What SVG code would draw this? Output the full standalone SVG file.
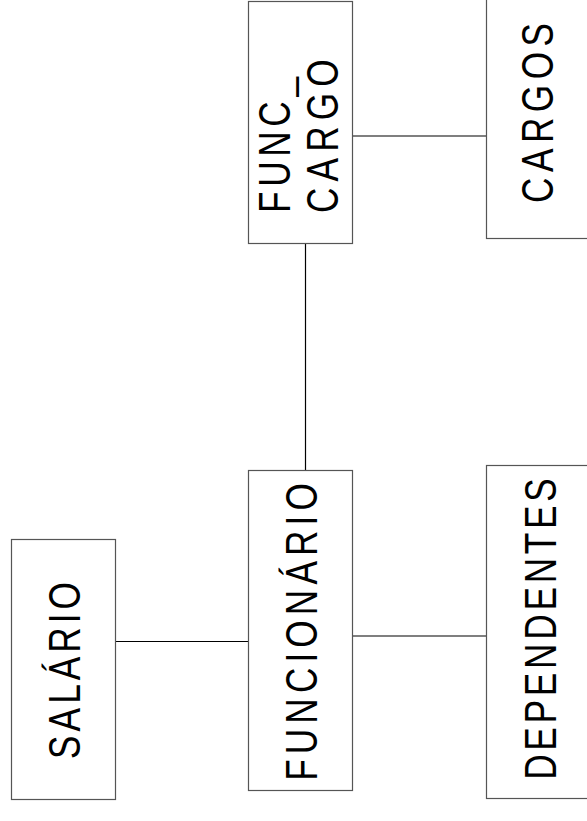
<svg xmlns="http://www.w3.org/2000/svg" width="587" height="821" viewBox="0 0 587 821">
<style>
.box{fill:#fff;stroke:#555;stroke-width:1.2}
.lbl{font-family:"Liberation Sans",Arial,sans-serif;font-size:44px;fill:#000}
.mid{text-anchor:middle}
.con line{stroke:#000;stroke-width:1.2}
</style>
<rect width="587" height="821" fill="#fff"/>
<g id="connectors" class="con">
<line x1="115" y1="641.5" x2="248" y2="641.5"/>
<line x1="353" y1="636" x2="486" y2="636"/>
<line x1="305.5" y1="243" x2="305.5" y2="470"/>
<line x1="352" y1="136" x2="486" y2="136"/>
</g>
<g id="salario">
<rect class="box" x="11.5" y="539.5" width="104" height="260"/>
<text class="lbl mid" transform="translate(80,670.5) rotate(-90) scale(0.8,1)" textLength="221" lengthAdjust="spacing">SALÁRIO</text>
</g>
<g id="funcionario">
<rect class="box" x="248.5" y="470.5" width="104" height="320"/>
<text class="lbl mid" transform="translate(317,632) rotate(-90) scale(0.8,1)" textLength="372" lengthAdjust="spacing">FUNCIONÁRIO</text>
</g>
<g id="dependentes">
<rect class="box" x="486.5" y="465.5" width="120" height="333"/>
<text class="lbl mid" transform="translate(556,629) rotate(-90) scale(0.8,1)" textLength="377" lengthAdjust="spacing">DEPENDENTES</text>
</g>
<g id="func_cargo">
<rect class="box" x="248.5" y="1.5" width="104" height="242"/>
<text class="lbl" transform="translate(290,213) rotate(-90) scale(0.8,1)" textLength="170" lengthAdjust="spacing">FUNC_</text>
<text class="lbl" transform="translate(338,213) rotate(-90) scale(0.8,1)" textLength="192" lengthAdjust="spacing">CARGO</text>
</g>
<g id="cargos">
<rect class="box" x="486.5" y="-5" width="120" height="243.5"/>
<text class="lbl mid" transform="translate(553,113) rotate(-90) scale(0.8,1)" textLength="225" lengthAdjust="spacing">CARGOS</text>
</g>
</svg>
